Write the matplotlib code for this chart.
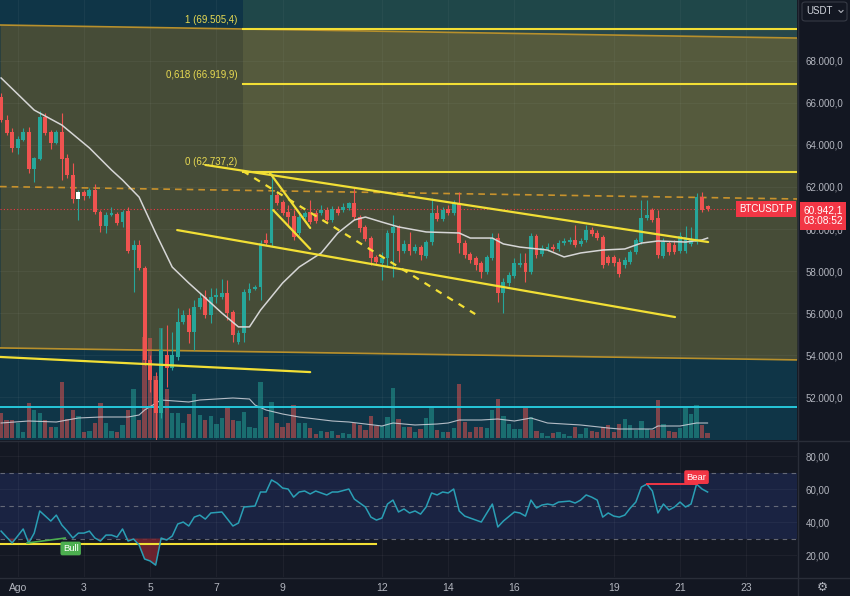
import numpy as np
import matplotlib.pyplot as plt
from matplotlib.patches import Rectangle, FancyBboxPatch
from matplotlib.lines import Line2D
from matplotlib.ticker import FuncFormatter

plt.rcParams['font.family'] = ['Liberation Sans', 'DejaVu Sans']

# BTCUSDT.P 4h candles, first candle = 31 Jul 12:00
opens = [66280, 65190, 64620, 63860, 64240, 64620, 62860, 63330, 65330, 64620,
         64090, 64620, 63380, 62570, 61430, 61760, 61570, 61860, 60810, 60140,
         60670, 60710, 60330, 60860, 59000, 59240, 58140, 53770, 52810, 51240,
         54000, 53380, 53910, 55570, 55910, 55100, 56290, 56760, 55910, 56760,
         56760, 56950, 56050, 54620, 55050, 56950, 57140, 57240, 59480, 59330,
         61620, 61290, 60810, 60620, 59810, 60570, 60810, 60760, 60760, 60900,
         60430, 60950, 60900, 61000, 61240, 60570, 60100, 59570, 58670, 58380,
         58620, 59810, 60100, 58950, 59290, 58950, 59140, 58720, 59380, 60760,
         60480, 60950, 60760, 61240, 59330, 58810, 58620, 58380, 57950, 58620,
         59570, 56950, 57430, 57760, 58290, 58380, 57950, 59670, 58810, 59050,
         59140, 59050, 59330, 59380, 59480, 59290, 59480, 59950, 59810, 59620,
         58670, 58670, 58430, 58290, 58430, 58910, 59380, 60520, 60900, 60520,
         58720, 59330, 59240, 58950, 58950, 59290, 59380, 61520, 61100]
highs = [66470, 65430, 64810, 64430, 64810, 64860, 63430, 65620, 65520, 64710,
         64710, 65520, 63570, 63140, 61860, 61860, 61950, 62140, 60900, 60810,
         61050, 60810, 60900, 61050, 59480, 59480, 58240, 54000, 53190, 55290,
         55430, 55100, 56240, 56140, 56240, 56620, 56950, 57100, 57190, 57190,
         57620, 57570, 56140, 55190, 57140, 57430, 57330, 59480, 59810, 62670,
         61760, 61380, 61140, 60900, 60760, 60860, 61380, 60900, 61140, 61050,
         61100, 61100, 61240, 61290, 61950, 60670, 60190, 59670, 58760, 58910,
         59950, 60670, 60190, 59480, 59860, 59290, 59240, 59480, 61480, 61140,
         61050, 61140, 61380, 61760, 59480, 58910, 58720, 58480, 58760, 59810,
         59810, 57670, 57950, 58620, 58860, 58860, 59810, 59760, 59240, 59330,
         59290, 59480, 59570, 59620, 60190, 59570, 60190, 60100, 59950, 59710,
         58760, 58760, 58620, 58670, 59000, 59570, 61380, 61380, 61000, 60900,
         59570, 59430, 59480, 59860, 60140, 60100, 61710, 61760, 61140]
lows = [65090, 64480, 63670, 63570, 64190, 62670, 62240, 63290, 64480, 63810,
        64050, 62330, 62430, 61240, 60430, 61380, 61480, 60710, 59860, 59810,
        60620, 60190, 60100, 58860, 57000, 58050, 53530, 52240, 49430, 51000,
        52480, 53290, 53770, 55480, 54570, 54240, 56190, 55760, 55530, 56480,
        56670, 55670, 54620, 54530, 54620, 56620, 57100, 56620, 59240, 59190,
        61140, 60670, 60100, 59480, 59710, 60480, 60240, 60290, 60670, 60290,
        60330, 60670, 60810, 60900, 60430, 59860, 59430, 58290, 58290, 57570,
        58190, 57720, 58430, 58860, 58760, 58860, 58520, 58620, 59240, 60380,
        60380, 60670, 60670, 58860, 58620, 58380, 58050, 57670, 57860, 58520,
        56530, 56000, 57290, 57670, 58190, 57480, 57860, 58620, 58720, 58950,
        58950, 58950, 59240, 59290, 59140, 59190, 59380, 59670, 59480, 58140,
        58290, 58240, 57720, 58140, 58330, 58810, 59290, 60430, 60330, 58620,
        58620, 58760, 58810, 58860, 58860, 59190, 59290, 60810, 60860]
closes = [65190, 64570, 63860, 64290, 64620, 62860, 63380, 65330, 64570, 64090,
          64620, 63330, 62570, 61430, 61760, 61570, 61860, 60810, 60140, 60670,
          60760, 60290, 60810, 58950, 59240, 58140, 53770, 52810, 51240, 54240,
          53380, 54000, 55570, 55910, 55100, 56290, 56720, 55910, 56760, 56860,
          56950, 56000, 54950, 55050, 57000, 57140, 57240, 59330, 59330, 61620,
          61240, 60760, 60570, 59620, 60570, 60760, 60330, 60380, 60900, 60430,
          60950, 60760, 61050, 61240, 60570, 60050, 59520, 58620, 58430, 58620,
          59810, 60100, 58950, 59290, 58950, 59140, 58760, 59380, 60760, 60480,
          60900, 60760, 61240, 59330, 58760, 58520, 58290, 57950, 58670, 59570,
          56950, 57480, 57810, 58380, 58380, 57950, 59670, 58760, 59100, 59140,
          59050, 59330, 59430, 59480, 59240, 59430, 59950, 59760, 59570, 58290,
          58380, 58380, 57860, 58520, 58910, 59480, 60520, 60670, 60430, 58760,
          59380, 58910, 58910, 59670, 59620, 59480, 61520, 60900, 60942]
volume = [25, 18, 18, 15, 6, 35, 28, 25, 18, 11,
          11, 56, 19, 28, 22, 6, 7, 15, 35, 15,
          7, 6, 13, 28, 49, 18, 101, 100, 62, 110,
          49, 25, 25, 15, 24, 44, 23, 18, 22, 14,
          20, 31, 18, 17, 26, 11, 10, 56, 21, 36,
          15, 11, 15, 33, 15, 15, 10, 4, 7, 6,
          7, 3, 5, 4, 15, 13, 8, 22, 12, 12,
          21, 50, 19, 11, 11, 6, 9, 20, 32, 8,
          6, 6, 10, 54, 16, 6, 11, 11, 10, 28,
          39, 22, 14, 9, 9, 30, 21, 7, 5, 2,
          5, 6, 4, 2, 11, 4, 10, 7, 6, 11,
          13, 6, 14, 19, 13, 8, 17, 9, 8, 38,
          14, 7, 6, 10, 30, 24, 33, 13, 5]
white_candles = [14]

sma_idx = [0, 6, 11, 16, 20, 22, 25, 28, 31, 34, 37, 40, 43, 45, 47, 51, 54, 58, 61, 64,
           66, 69, 72, 77, 83, 85, 89, 91, 94, 99, 102, 105, 109, 113, 116, 119, 124, 127, 128]
sma = [67190, 65660, 64950, 63860, 62810, 62330, 61520, 59810, 58190, 57430,
       56720, 56000, 55340, 55340, 56140, 57430, 58190, 58860, 59810, 60430,
       60570, 60330, 60100, 59860, 59810, 59570, 59570, 59290, 59140, 59000,
       58670, 58860, 59000, 59050, 59330, 59430, 59380, 59480, 59570]

vol_ma_idx = [0, 5, 10, 14, 18, 23, 25, 26, 29, 34, 36, 42, 45, 46, 48, 51, 54, 60, 63, 69,
              71, 75, 79, 81, 83, 87, 90, 93, 96, 99, 102, 105, 110, 112, 118, 119, 123, 126, 128]
vol_ma = [15, 17, 16, 20, 21, 21, 23, 28, 38, 36, 38, 40, 39, 33, 28, 24, 21, 17, 16, 12,
          15, 13, 14, 15, 18, 18, 19, 17, 20, 15, 14, 13, 10, 9, 9, 12, 12, 15, 15]

rsi_idx = [0, 2, 4, 5, 6, 7, 9, 10, 11, 12,
           13, 14, 15, 16, 17, 18, 19, 20, 21, 22, 23, 24, 25, 26, 27, 28,
           29, 30, 31, 32, 33, 34, 35, 36, 37, 38,
           40, 42, 43, 44, 46, 47, 48, 49, 50, 51,
           52, 53, 54, 55, 56, 57, 59, 60, 61, 63,
           64, 66, 67, 68, 69, 70, 71, 72, 73, 74,
           75, 76, 77, 78, 79, 80, 81, 82, 83, 84, 85,
           87, 89, 90, 91, 93, 94, 95, 96, 97, 98,
           99, 100, 101, 103, 104, 105, 106, 107, 108, 109,
           110, 111, 112, 113, 114, 115, 116, 117, 118, 119, 120, 121, 122, 123, 124, 125, 126, 127, 128]
rsi = [34.5, 27.3, 35.8, 27.3, 33.3, 46.7, 40.6, 44.2, 38.2, 34.5,
       30.3, 33.3, 33.3, 34.5, 30.3, 28.5, 32.1, 32.1, 30.9, 35.8, 28.5, 29.7, 26.1, 17.6, 16.4, 13.9,
       30.3, 29.1, 31.5, 38.8, 40.0, 37.6, 43.0, 44.2, 41.8, 45.5,
       46.1, 37.6, 39.4, 49.1, 49.7, 58.2, 58.2, 65.5, 63.6, 60.6,
       60.0, 55.1, 58.2, 58.8, 57.0, 58.8, 56.4, 58.2, 58.2, 60.0,
       53.9, 49.1, 43.0, 41.2, 42.4, 50.9, 53.3, 46.1, 47.9, 45.5,
       46.7, 44.8, 49.1, 57.6, 56.4, 58.2, 57.6, 60.0, 46.7, 43.6, 42.4,
       40.0, 50.9, 37.0, 40.6, 46.1, 45.5, 43.6, 53.3, 48.5, 50.3,
       50.9, 50.3, 52.1, 52.7, 51.5, 53.3, 56.4, 55.1, 53.3, 43.0,
       45.5, 43.6, 43.0, 44.2, 48.5, 52.1, 61.2, 63.0, 58.8, 45.5, 50.9, 47.3, 49.1, 52.1, 49.1, 50.9, 63.0, 60.0, 58.2]

day_numbers = [1, 3, 5, 7, 9, 12, 14, 16, 19, 21, 23]
day_labels = ['Ago', '3', '5', '7', '9', '12', '14', '16', '19', '21', '23']
first_day_candle = 3          # Aug 1 00:00
candles_per_day = 6

price_ticks = [52000, 54000, 56000, 58000, 60000, 62000, 64000, 66000, 68000]
rsi_ticks = [20, 40, 60, 80]

fib_labels = ['1', '0,618', '0']
fib_prices = [69505.4, 66919.9, 62737.2]
fib_start = 43.8

# drawings as (i0, p0, i1, p1)
channel_top = (-0.2, 69710, 144.2, 69090)
channel_bot = (-0.2, 54340, 144.2, 53770)
old_support = (-0.2, 53910, 56.0, 53190)
wedge_top = (37.0, 63050, 128.1, 59380)
wedge_bot = (31.9, 59950, 122.1, 55810)
flag_a = (48.7, 62670, 56.0, 60050)
flag_b = (49.3, 60900, 56.0, 59050)
flag_target = (43.8, 62760, 85.9, 55950)
resistance = (-0.2, 62020, 144.2, 61430)
cyan_level = 51530
last_price = 60942.1

rsi_support = (0, 68, 26.5)
bull_line = ([4.7, 11.6], [27.3, 30.3])
bear_line = ([117, 126], [63.0, 63.0])

W, H = 850, 596
BG = '#131722'
TXT = '#b2b5be'
UP, DOWN = '#26a69a', '#ef5350'
YEL = '#f2df35'


def rect(x0, y0, x1, y1):
    return [x0 / W, 1 - y1 / H, (x1 - x0) / W, (y1 - y0) / H]


def eu(v, dec):
    s = f"{v:,.{dec}f}"
    return s.replace(',', 'X').replace('.', ',').replace('X', '.')


fig = plt.figure(figsize=(8.5, 5.96), dpi=100, facecolor=BG)
ax = fig.add_axes(rect(0, 0, 797, 440))
ax_rsi = fig.add_axes(rect(0, 441, 797, 577), sharex=ax)

xmin, xmax = -0.2, 144.2
ax.set_xlim(xmin, xmax)
ax.set_ylim(49957, 70901)
ax.set_facecolor('#0f3547')

# channel fill + fib zones
ax.fill_between([channel_top[0], channel_top[2]], [channel_bot[1], channel_bot[3]],
                [channel_top[1], channel_top[3]], color='#464c37', lw=0, zorder=0.5)
ax.fill_between([fib_start, xmax], fib_prices[0], 70901, color='#6ea055', alpha=0.17, lw=0, zorder=0.6)
ax.fill_between([fib_start, xmax], fib_prices[2], fib_prices[0], color='#a0a55f', alpha=0.17, lw=0, zorder=0.6)

day_pos = [first_day_candle + candles_per_day * (d - 1) for d in day_numbers]
for a in (ax, ax_rsi):
    for s in a.spines.values():
        s.set_visible(False)
    a.set_xticks(day_pos)
    a.grid(True, color='white', alpha=0.045, lw=0.7)
    a.set_axisbelow(True)

# volume (lower part of price pane)
x = np.arange(len(closes))
o, hi, lo, c = map(np.array, (opens, highs, lows, closes))
up = c >= o
vol_top = 440.0
vtr = ax.get_xaxis_transform()
for i in x:
    ax.add_patch(Rectangle((i - 0.39, 2 / vol_top), 0.78, volume[i] / vol_top, transform=vtr,
                           fc=UP if up[i] else DOWN, alpha=0.5, lw=0, zorder=1))
ax.plot(vol_ma_idx, (np.array(vol_ma) + 2) / vol_top, transform=vtr, color='#d1d4dc', lw=0.8, alpha=0.85, zorder=1.2)

# horizontal levels
ax.axhline(cyan_level, color='#26c6da', lw=1.4, zorder=2)
ax.axhline(last_price, color='#f23645', lw=0.8, ls=(0, (1, 2)), zorder=2)


def seg(line, **kw):
    ax.plot([line[0], line[2]], [line[1], line[3]], solid_capstyle='round', **kw)


seg(channel_top, color='#b8902c', lw=1.2, zorder=2)
seg(channel_bot, color='#b8902c', lw=1.2, zorder=2)
seg(resistance, color='#c8922c', lw=1.2, ls=(0, (4, 3)), zorder=2)

# candles
wick_col = [UP if u else DOWN for u in up]
body_col = list(wick_col)
for i in white_candles:
    body_col[i] = '#ffffff'
ax.vlines(x, lo, hi, colors=wick_col, lw=0.8, zorder=3)
ax.bar(x, np.maximum(np.abs(c - o), 40), bottom=np.minimum(o, c), width=0.7,
       color=body_col, lw=0, zorder=3.5)

ax.plot(sma_idx, sma, color='#d6d6d6', lw=1.1, zorder=4)

# fib levels
for lab, p in zip(fib_labels, fib_prices):
    ax.plot([fib_start, xmax], [p, p], color=YEL, lw=1.5, zorder=4.5)
    ax.annotate(f"{lab} ({eu(p, 1)})", xy=(fib_start, p), xytext=(-4, 6.5), textcoords='offset points',
                ha='right', va='center', color='#e8da52', fontsize=7, zorder=6)

for ln in (old_support, wedge_top, wedge_bot, flag_a, flag_b):
    seg(ln, color=YEL, lw=1.6, zorder=5)
seg(flag_target, color=YEL, lw=1.6, ls=(0, (3, 3)), zorder=5)

# price axis
ax.yaxis.tick_right()
ax.set_yticks(price_ticks)
ax.yaxis.set_major_formatter(FuncFormatter(lambda v, _: eu(v, 1)))
ax.tick_params(axis='y', length=0, pad=6, labelcolor=TXT, labelsize=7)
ax.tick_params(axis='x', length=0, labelbottom=False)

ax.annotate('BTCUSDT.P', xy=(1, last_price), xycoords=('axes fraction', 'data'), xytext=(-3, 0),
            textcoords='offset points', ha='right', va='center', color='white', fontsize=7, zorder=10,
            bbox=dict(boxstyle='square,pad=0.3', fc='#f23645', ec='none'))
ax.annotate(f"{eu(last_price, 1)}\n03:08:52", xy=(1, last_price), xycoords=('axes fraction', 'data'),
            xytext=(4.5, -4.6), textcoords='offset points', ha='left', va='center', color='white',
            fontsize=7.3, linespacing=1.1, annotation_clip=False, zorder=10,
            bbox=dict(boxstyle='square,pad=0.35', fc='#f23645', ec='none'))

# RSI pane
ax_rsi.set_facecolor('#141823')
ax_rsi.set_ylim(6.7, 89.1)
ax_rsi.axhspan(30, 70, color='#1a2342', lw=0, zorder=0.5)
for lvl in (70, 50, 30):
    ax_rsi.axhline(lvl, color='#787b86', lw=0.8, ls=(0, (4, 4)), alpha=0.8, zorder=1)
r = np.array(rsi)
ax_rsi.fill_between(rsi_idx, r, 30, where=r < 30, interpolate=True, color='#7a2630', alpha=0.85, lw=0, zorder=1.5)
ax_rsi.plot([rsi_support[0], rsi_support[1]], [rsi_support[2]] * 2, color=YEL, lw=1.5, zorder=2)
ax_rsi.plot(rsi_idx, r, color='#2a9fb5', lw=1.1, zorder=3)
ax_rsi.plot(*bull_line, color='#4caf50', lw=1.2, zorder=3)
ax_rsi.plot(*bear_line, color='#f23645', lw=1.4, zorder=3)
ax_rsi.annotate('Bull', xy=(bull_line[0][1], bull_line[1][1]), xytext=(4, -7.5), textcoords='offset points',
                ha='center', va='center', color='white', fontsize=6.8, zorder=6,
                bbox=dict(boxstyle='round,pad=0.25,rounding_size=0.2', fc='#4caf50', ec='none'))
ax_rsi.annotate('Bear', xy=(bear_line[0][1], bear_line[1][1]), xytext=(0, 5), textcoords='offset points',
                ha='center', va='center', color='white', fontsize=6.8, zorder=6,
                bbox=dict(boxstyle='round,pad=0.25,rounding_size=0.2', fc='#f23645', ec='none'))

ax_rsi.yaxis.tick_right()
ax_rsi.set_yticks(rsi_ticks)
ax_rsi.yaxis.set_major_formatter(FuncFormatter(lambda v, _: eu(v, 2)))
ax_rsi.tick_params(axis='y', length=0, pad=6, labelcolor=TXT, labelsize=7)
ax_rsi.set_xticklabels(day_labels)
ax_rsi.tick_params(axis='x', length=0, pad=4, labelcolor=TXT, labelsize=7.5)

# separators and right-side widgets
for l in (Line2D([0, 1], [1 - 440.5 / H] * 2, color='#2a2e39', lw=1),
          Line2D([0, 1], [1 - 577.5 / H] * 2, color='#2a2e39', lw=1),
          Line2D([797.5 / W] * 2, [0, 1], color='#2a2e39', lw=1)):
    l.set_transform(fig.transFigure)
    fig.add_artist(l)

fig.add_artist(FancyBboxPatch((802 / W, 1 - 21 / H), 45 / W, 19 / H, transform=fig.transFigure,
                              boxstyle='round,pad=0,rounding_size=0.004', fc=BG, ec='#363a45', lw=0.8))
fig.text(806 / W, 1 - 11.5 / H, 'USDT', color='#d1d4dc', fontsize=7, va='center')
chev = Line2D([839 / W, 841 / W, 843 / W], [1 - 10.5 / H, 1 - 12.5 / H, 1 - 10.5 / H],
              color='#b2b5be', lw=0.8, transform=fig.transFigure)
fig.add_artist(chev)
fig.text(822 / W, 1 - 588 / H, '\u2699', color=TXT, fontsize=9, ha='center', va='center')

fig.savefig('out.png', dpi=100, facecolor=BG)
